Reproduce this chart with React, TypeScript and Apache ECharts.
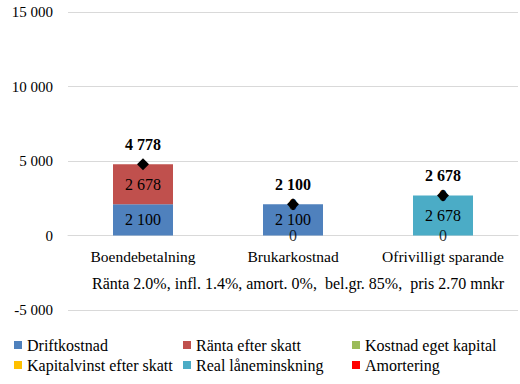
import React, { useEffect, useRef } from "react";
import * as echarts from "echarts";

const categories = ["Boendebetalning", "Brukarkostnad", "Ofrivilligt sparande"];
const driftkostnad = [2100, 2100, null];
const rantaEfterSkatt = [2678, null, null];
const kostnadEgetKapital = [null, 0, null];
const kapitalvinstEfterSkatt = [null, null, null];
const realLaneminskning = [null, null, 2678];
const amortering = [null, null, 0];
const totals = [4778, 2100, 2678];
const yTicks = { min: -5000, max: 15000, interval: 5000 };
const subtitle = "Ränta 2.0%, infl. 1.4%, amort. 0%,  bel.gr. 85%,  pris 2.70 mnkr";

const FONT = "Liberation Serif";
const fmt = (v: number) => {
  const s = Math.abs(Math.round(v)).toString().replace(/\B(?=(\d{3})+(?!\d))/g, " ");
  return (v < 0 ? "-" : "") + s;
};

export default function App() {
  const ref = useRef<HTMLDivElement>(null);
  useEffect(() => {
    const chart = echarts.init(ref.current!, null, { renderer: "svg" });
    const barLabel = {
      show: true,
      position: "inside",
      color: "#000",
      fontFamily: FONT,
      fontSize: 16,
      formatter: (p: any) => fmt(p.value),
    };
    const mk = (name: string, data: any[], color: string) => ({
      name,
      type: "bar",
      stack: "s",
      data,
      barWidth: 60,
      itemStyle: { color },
      label: barLabel,
    });
    const allStacks = [driftkostnad, rantaEfterSkatt, kostnadEgetKapital, kapitalvinstEfterSkatt, realLaneminskning, amortering];
    const zeroLabels = categories.map((_, i) => (allStacks.some((s) => s[i] === 0) ? 0 : null));
    const legendBase = {
      orient: "vertical",
      top: 336,
      height: 48,
      padding: 0,
      itemWidth: 8,
      itemHeight: 8,
      itemGap: 2,
      icon: "rect",
      textStyle: { fontFamily: FONT, fontSize: 16, color: "#000", lineHeight: 18 },
    };
    chart.setOption({
      animation: false,
      textStyle: { fontFamily: FONT },
      grid: { left: 68, right: 2, top: 12, bottom: 74 },
      xAxis: {
        type: "category",
        data: categories,
        axisLine: { show: true, onZero: true, lineStyle: { color: "#d9d9d9" } },
        axisTick: { show: false },
        axisLabel: { fontFamily: FONT, fontSize: 15.5, color: "#000", margin: -62, interval: 0, hideOverlap: false },
      },
      yAxis: {
        type: "value",
        min: yTicks.min,
        max: yTicks.max,
        interval: yTicks.interval,
        axisLine: { show: false },
        axisTick: { show: false },
        splitLine: { lineStyle: { color: "#d9d9d9", width: 1 } },
        axisLabel: {
          fontFamily: FONT,
          fontSize: 15,
          color: "#000",
          margin: 15,
          formatter: (v: number) => fmt(v),
        },
      },
      legend: [
        { ...legendBase, left: 14, data: ["Driftkostnad", "Kapitalvinst efter skatt"] },
        { ...legendBase, left: 183, data: ["Ränta efter skatt", "Real låneminskning"] },
        { ...legendBase, left: 352, data: ["Kostnad eget kapital", "Amortering"] },
      ],
      series: [
        mk("Driftkostnad", driftkostnad, "#4F81BD"),
        mk("Ränta efter skatt", rantaEfterSkatt, "#C0504D"),
        mk("Kostnad eget kapital", kostnadEgetKapital, "#9BBB59"),
        mk("Kapitalvinst efter skatt", kapitalvinstEfterSkatt, "#FFC000"),
        mk("Real låneminskning", realLaneminskning, "#4BACC6"),
        mk("Amortering", amortering, "#FF0000"),
        {
          name: "zero",
          type: "scatter",
          data: zeroLabels,
          symbolSize: 0,
          silent: true,
          label: {
            show: true,
            position: "inside",
            color: "#000",
            fontFamily: FONT,
            fontSize: 16,
            formatter: (p: any) => fmt(p.value),
          },
        },
        {
          name: "Totalt",
          type: "line",
          data: totals,
          symbol: "diamond",
          symbolSize: 12,
          lineStyle: { width: 0, opacity: 0 },
          itemStyle: { color: "#000" },
          z: 5,
          label: {
            show: true,
            position: "top",
            distance: 6,
            color: "#000",
            fontFamily: FONT,
            fontSize: 16,
            fontWeight: "bold",
            formatter: (p: any) => fmt(p.value),
          },
        },
      ],
      graphic: [
        {
          type: "text",
          x: 298,
          y: 283,
          style: {
            text: subtitle,
            fontFamily: FONT,
            fontSize: 16,
            fill: "#000",
            align: "center",
            verticalAlign: "middle",
          },
        },
      ],
    });
    return () => chart.dispose();
  }, []);
  return <div ref={ref} style={{ width: 520, height: 384, position: "fixed", left: 0, top: 0, background: "#fff" }} />;
}
